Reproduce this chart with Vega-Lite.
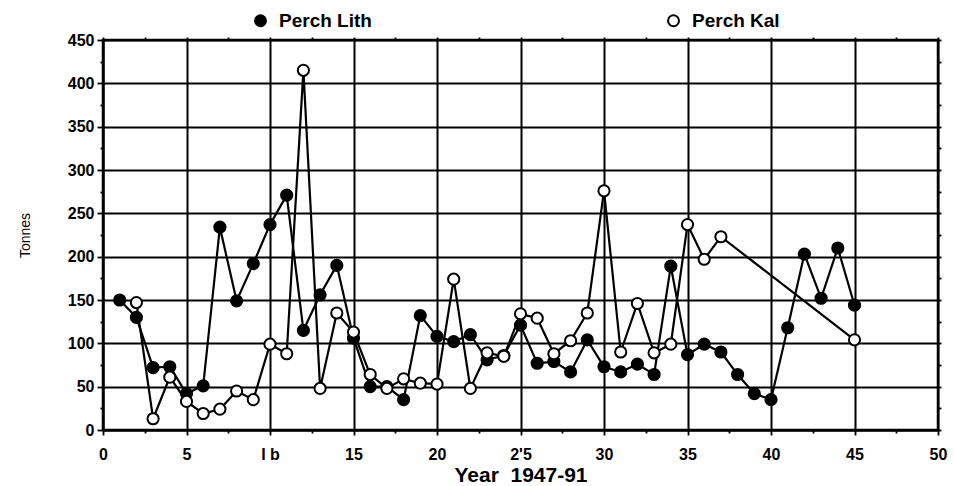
{
  "$schema": "https://vega.github.io/schema/vega-lite/v6.json",
  "width": 835,
  "height": 390,
  "autosize": {"type": "none"},
  "padding": {"left": 103, "top": 40, "right": 16, "bottom": 56},
  "background": "white",
  "config": {
    "view": {"stroke": "black", "strokeWidth": 2.5},
    "font": "Liberation Sans",
    "axis": {
      "domainColor": "black",
      "domainWidth": 2,
      "tickColor": "black",
      "tickWidth": 1.8,
      "gridColor": "black",
      "gridWidth": 2,
      "labelColor": "black",
      "titleColor": "black",
      "labelFont": "Liberation Sans",
      "titleFont": "Liberation Sans",
      "labelOverlap": false,
      "labelFlush": false
    }
  },
  "data": {
    "values": [
      {"year": 1, "tonnes": 150, "series": "Perch Lith"},
      {"year": 2, "tonnes": 130, "series": "Perch Lith"},
      {"year": 3, "tonnes": 72, "series": "Perch Lith"},
      {"year": 4, "tonnes": 73, "series": "Perch Lith"},
      {"year": 5, "tonnes": 42, "series": "Perch Lith"},
      {"year": 6, "tonnes": 51, "series": "Perch Lith"},
      {"year": 7, "tonnes": 234, "series": "Perch Lith"},
      {"year": 8, "tonnes": 149, "series": "Perch Lith"},
      {"year": 9, "tonnes": 192, "series": "Perch Lith"},
      {"year": 10, "tonnes": 237, "series": "Perch Lith"},
      {"year": 11, "tonnes": 271, "series": "Perch Lith"},
      {"year": 12, "tonnes": 115, "series": "Perch Lith"},
      {"year": 13, "tonnes": 156, "series": "Perch Lith"},
      {"year": 14, "tonnes": 190, "series": "Perch Lith"},
      {"year": 15, "tonnes": 106, "series": "Perch Lith"},
      {"year": 16, "tonnes": 50, "series": "Perch Lith"},
      {"year": 17, "tonnes": 50, "series": "Perch Lith"},
      {"year": 18, "tonnes": 35, "series": "Perch Lith"},
      {"year": 19, "tonnes": 132, "series": "Perch Lith"},
      {"year": 20, "tonnes": 108, "series": "Perch Lith"},
      {"year": 21, "tonnes": 102, "series": "Perch Lith"},
      {"year": 22, "tonnes": 110, "series": "Perch Lith"},
      {"year": 23, "tonnes": 81, "series": "Perch Lith"},
      {"year": 24, "tonnes": 86, "series": "Perch Lith"},
      {"year": 25, "tonnes": 121, "series": "Perch Lith"},
      {"year": 26, "tonnes": 77, "series": "Perch Lith"},
      {"year": 27, "tonnes": 79, "series": "Perch Lith"},
      {"year": 28, "tonnes": 67, "series": "Perch Lith"},
      {"year": 29, "tonnes": 104, "series": "Perch Lith"},
      {"year": 30, "tonnes": 73, "series": "Perch Lith"},
      {"year": 31, "tonnes": 67, "series": "Perch Lith"},
      {"year": 32, "tonnes": 76, "series": "Perch Lith"},
      {"year": 33, "tonnes": 64, "series": "Perch Lith"},
      {"year": 34, "tonnes": 189, "series": "Perch Lith"},
      {"year": 35, "tonnes": 87, "series": "Perch Lith"},
      {"year": 36, "tonnes": 99, "series": "Perch Lith"},
      {"year": 37, "tonnes": 90, "series": "Perch Lith"},
      {"year": 38, "tonnes": 64, "series": "Perch Lith"},
      {"year": 39, "tonnes": 42, "series": "Perch Lith"},
      {"year": 40, "tonnes": 35, "series": "Perch Lith"},
      {"year": 41, "tonnes": 118, "series": "Perch Lith"},
      {"year": 42, "tonnes": 203, "series": "Perch Lith"},
      {"year": 43, "tonnes": 152, "series": "Perch Lith"},
      {"year": 44, "tonnes": 210, "series": "Perch Lith"},
      {"year": 45, "tonnes": 144, "series": "Perch Lith"},
      {"year": 2, "tonnes": 147, "series": "Perch Kal"},
      {"year": 3, "tonnes": 13, "series": "Perch Kal"},
      {"year": 4, "tonnes": 61, "series": "Perch Kal"},
      {"year": 5, "tonnes": 33, "series": "Perch Kal"},
      {"year": 6, "tonnes": 19, "series": "Perch Kal"},
      {"year": 7, "tonnes": 24, "series": "Perch Kal"},
      {"year": 8, "tonnes": 45, "series": "Perch Kal"},
      {"year": 9, "tonnes": 35, "series": "Perch Kal"},
      {"year": 10, "tonnes": 99, "series": "Perch Kal"},
      {"year": 11, "tonnes": 88, "series": "Perch Kal"},
      {"year": 12, "tonnes": 415, "series": "Perch Kal"},
      {"year": 13, "tonnes": 48, "series": "Perch Kal"},
      {"year": 14, "tonnes": 135, "series": "Perch Kal"},
      {"year": 15, "tonnes": 113, "series": "Perch Kal"},
      {"year": 16, "tonnes": 64, "series": "Perch Kal"},
      {"year": 17, "tonnes": 48, "series": "Perch Kal"},
      {"year": 18, "tonnes": 59, "series": "Perch Kal"},
      {"year": 19, "tonnes": 54, "series": "Perch Kal"},
      {"year": 20, "tonnes": 53, "series": "Perch Kal"},
      {"year": 21, "tonnes": 174, "series": "Perch Kal"},
      {"year": 22, "tonnes": 48, "series": "Perch Kal"},
      {"year": 23, "tonnes": 89, "series": "Perch Kal"},
      {"year": 24, "tonnes": 85, "series": "Perch Kal"},
      {"year": 25, "tonnes": 134, "series": "Perch Kal"},
      {"year": 26, "tonnes": 129, "series": "Perch Kal"},
      {"year": 27, "tonnes": 88, "series": "Perch Kal"},
      {"year": 28, "tonnes": 103, "series": "Perch Kal"},
      {"year": 29, "tonnes": 135, "series": "Perch Kal"},
      {"year": 30, "tonnes": 276, "series": "Perch Kal"},
      {"year": 31, "tonnes": 90, "series": "Perch Kal"},
      {"year": 32, "tonnes": 146, "series": "Perch Kal"},
      {"year": 33, "tonnes": 89, "series": "Perch Kal"},
      {"year": 34, "tonnes": 99, "series": "Perch Kal"},
      {"year": 35, "tonnes": 237, "series": "Perch Kal"},
      {"year": 36, "tonnes": 197, "series": "Perch Kal"},
      {"year": 37, "tonnes": 223, "series": "Perch Kal"},
      {"year": 45, "tonnes": 104, "series": "Perch Kal"}
    ]
  },
  "layer": [
    {
      "mark": {"type": "line", "color": "black", "strokeWidth": 2.2},
      "encoding": {
        "x": {
          "field": "year",
          "type": "quantitative",
          "scale": {"domain": [0, 50], "nice": false, "zero": false},
          "axis": {
            "orient": "bottom",
            "values": [0, 2.5, 5, 7.5, 10, 12.5, 15, 17.5, 20, 22.5, 25, 27.5, 30, 32.5, 35, 37.5, 40, 42.5, 45, 47.5, 50],
            "grid": true,
            "gridOpacity": {"condition": {"test": "datum.value % 5 === 0", "value": 1}, "value": 0},
            "tickSize": {"condition": {"test": "datum.value % 5 === 0", "value": 5}, "value": 3},
            "labelExpr": "datum.value % 5 !== 0 ? '' : (datum.value === 10 ? 'I b' : (datum.value === 25 ? \"2'5\" : datum.label))",
            "labelFontSize": 16,
            "labelFontWeight": "bold",
            "labelPadding": 11,
            "title": "Year\u00a0 1947-91",
            "titleFontSize": 21,
            "titleFontWeight": "bold",
            "titlePadding": 2
          }
        },
        "y": {
          "field": "tonnes",
          "type": "quantitative",
          "scale": {"domain": [0, 450], "nice": false},
          "axis": {
            "orient": "left",
            "values": [0, 25, 50, 75, 100, 125, 150, 175, 200, 225, 250, 275, 300, 325, 350, 375, 400, 425, 450],
            "grid": true,
            "gridOpacity": {"condition": {"test": "datum.value % 50 === 0", "value": 1}, "value": 0},
            "tickSize": {"condition": {"test": "datum.value % 50 === 0", "value": 6}, "value": 3},
            "labelExpr": "datum.value % 50 === 0 ? datum.label : ''",
            "labelFontSize": 16,
            "labelFontWeight": "bold",
            "labelPadding": 3,
            "title": "Tonnes",
            "titleFontSize": 14,
            "titleFontWeight": "normal",
            "titlePadding": 35
          }
        },
        "detail": {"field": "series"}
      }
    },
    {
      "mark": {"type": "point", "shape": "circle", "filled": true, "stroke": "black", "strokeWidth": 2, "size": 125, "opacity": 1},
      "encoding": {
        "x": {
          "field": "year",
          "type": "quantitative",
          "axis": {
            "orient": "top",
            "values": [0, 2.5, 5, 7.5, 10, 12.5, 15, 17.5, 20, 22.5, 25, 27.5, 30, 32.5, 35, 37.5, 40, 42.5, 45, 47.5, 50],
            "grid": false,
            "labels": false,
            "domain": false,
            "tickSize": 3,
            "title": null
          }
        },
        "y": {
          "field": "tonnes",
          "type": "quantitative",
          "axis": {
            "orient": "right",
            "values": [0, 25, 50, 75, 100, 125, 150, 175, 200, 225, 250, 275, 300, 325, 350, 375, 400, 425, 450],
            "grid": false,
            "labels": false,
            "domain": false,
            "tickSize": 3,
            "title": null
          }
        },
        "fill": {
          "field": "series",
          "type": "nominal",
          "scale": {"domain": ["Perch Lith", "Perch Kal"], "range": ["black", "white"]},
          "legend": {
            "orient": "none",
            "legendX": 148,
            "legendY": -29,
            "direction": "horizontal",
            "title": null,
            "symbolType": "circle",
            "symbolSize": 120,
            "symbolStrokeColor": "black",
            "symbolStrokeWidth": 2,
            "labelFont": "Liberation Sans",
            "labelFontSize": 19,
            "labelFontWeight": "bold",
            "labelColor": "black",
            "labelOffset": 9,
            "columnPadding": 292
          }
        }
      }
    }
  ],
  "resolve": {"axis": {"x": "independent", "y": "independent"}}
}
